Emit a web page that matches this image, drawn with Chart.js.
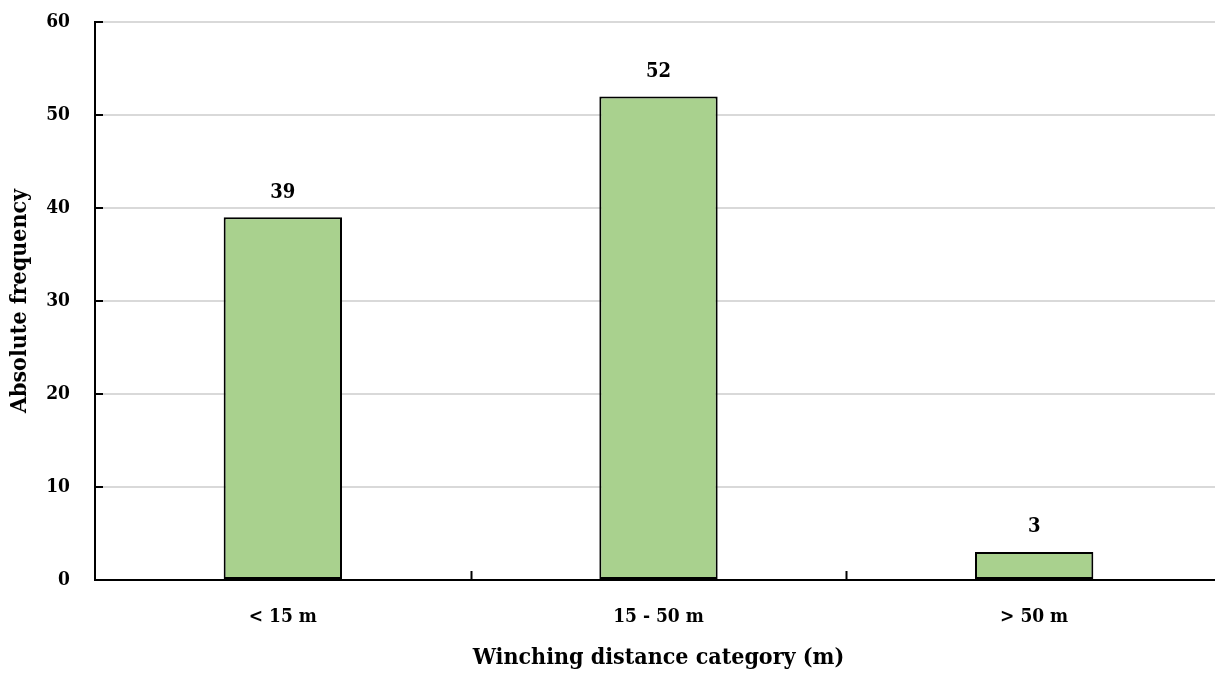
<!DOCTYPE html>
<html>
<head>
    <meta charset="UTF-8">
    <title>Winching distance</title>
    <script src="https://cdn.jsdelivr.net/npm/chart.js"></script>
    <style>
        html, body { margin: 0; padding: 0; background: #fff; overflow: hidden; }
        #wrap { width: 1222px; height: 673px; position: relative; }
    </style>
</head>
<body>
<div id="wrap"><canvas id="myChart"></canvas></div>
<script>
    const categories = ['< 15 m', '15 - 50 m', '> 50 m'];
    const frequency = [39, 52, 3];
    const yTicks = [0, 10, 20, 30, 40, 50, 60];

    const FONT = '"DejaVu Serif Condensed", "DejaVu Serif", serif';

    // small tick marks drawn inside the plot, plus value labels above bars
    const extras = {
        id: 'extras',
        afterDatasetsDraw(chart) {
            const ctx = chart.ctx;
            const x = chart.scales.x, y = chart.scales.y;
            ctx.save();
            ctx.strokeStyle = '#000';
            ctx.lineWidth = 2;
            y.ticks.forEach(function (t, i) {
                const py = y.getPixelForTick(i);
                ctx.beginPath();
                ctx.moveTo(x.left, py);
                ctx.lineTo(x.left + 8, py);
                ctx.stroke();
            });
            const half = (x.getPixelForValue(1) - x.getPixelForValue(0)) / 2;
            for (let i = 1; i < categories.length; i++) {
                const px = Math.round(x.getPixelForValue(i) - half) + 0.5;
                ctx.beginPath();
                ctx.moveTo(px, y.bottom);
                ctx.lineTo(px, y.bottom - 9);
                ctx.stroke();
            }
            ctx.fillStyle = '#000';
            ctx.font = 'bold 20px ' + FONT;
            ctx.textAlign = 'center';
            ctx.textBaseline = 'middle';
            chart.getDatasetMeta(0).data.forEach(function (bar, i) {
                ctx.fillText(String(frequency[i]), bar.x, bar.y - 25);
            });
            ctx.restore();
        }
    };

    const ctx = document.getElementById('myChart').getContext('2d');
    new Chart(ctx, {
        type: 'bar',
        data: {
            labels: categories,
            datasets: [{
                data: frequency,
                backgroundColor: '#a9d18e',
                borderColor: '#000',
                borderWidth: 2,
                borderSkipped: false,
                barPercentage: 1,
                categoryPercentage: 0.315
            }]
        },
        options: {
            responsive: true,
            maintainAspectRatio: false,
            animation: false,
            layout: { padding: { top: 22, right: 0, left: 0, bottom: 0 } },
            plugins: {
                legend: { display: false },
                tooltip: { enabled: false }
            },
            scales: {
                x: {
                    grid: { display: false, drawTicks: false },
                    border: { color: '#000', width: 2 },
                    ticks: {
                        color: '#000',
                        padding: 26,
                        font: { family: FONT, size: 19, weight: 'bold' }
                    },
                    title: {
                        display: true,
                        text: 'Winching distance category (m)',
                        color: '#000',
                        padding: { top: 0, bottom: 1 },
                        font: { family: FONT, size: 23, weight: 'bold' }
                    },
                    afterFit(scale) { scale.height = 93; }
                },
                y: {
                    min: 0,
                    max: 60,
                    afterBuildTicks(scale) {
                        scale.ticks = yTicks.map(v => ({ value: v }));
                    },
                    grid: { color: '#d9d9d9', lineWidth: 2, drawTicks: false },
                    border: { color: '#000', width: 2 },
                    ticks: {
                        color: '#000',
                        padding: 25,
                        font: { family: FONT, size: 19, weight: 'bold' }
                    },
                    title: {
                        display: true,
                        text: 'Absolute frequency',
                        color: '#000',
                        padding: { top: 6, bottom: 0 },
                        font: { family: FONT, size: 23, weight: 'bold' }
                    },
                    afterFit(scale) {
                        scale.width = 95;
                        scale.paddingTop = 0;
                        scale.paddingBottom = 0;
                    }
                }
            }
        },
        plugins: [extras]
    });
</script>
</body>
</html>
